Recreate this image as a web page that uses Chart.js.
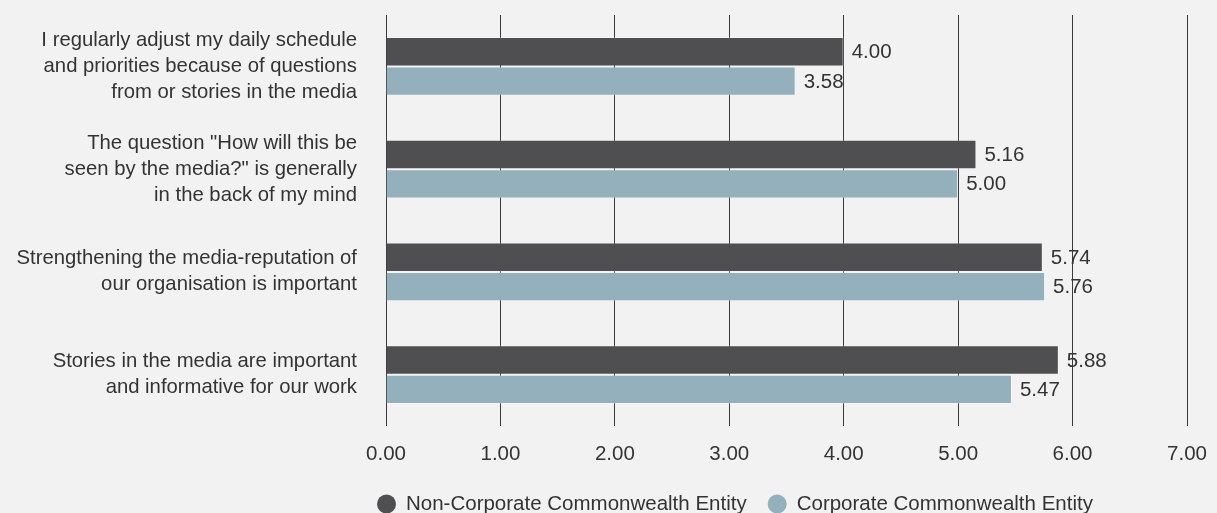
<!DOCTYPE html>
<html>
<head>
<meta charset="utf-8">
<script src="https://cdn.jsdelivr.net/npm/chart.js@4/dist/chart.umd.min.js"></script>
<style>
  html, body { margin: 0; padding: 0; background: #f2f2f2; }
  #wrap { width: 1217px; height: 513px; }
</style>
</head>
<body>
<div id="wrap"><canvas id="c" width="1217" height="513"></canvas></div>
<script>
// Survey statements (multi-line category labels)
const categories = [
  ['I regularly adjust my daily schedule', 'and priorities because of questions', 'from or stories in the media'],
  ['The question "How will this be', 'seen by the media?" is generally', 'in the back of my mind'],
  ['Strengthening the media-reputation of', 'our organisation is important'],
  ['Stories in the media are important', 'and informative for our work']
];
const seriesNames = ['Non-Corporate Commonwealth Entity', 'Corporate Commonwealth Entity'];
const nonCorporate = [4.00, 5.16, 5.74, 5.88];
const corporate = [3.58, 5.00, 5.76, 5.47];
const axisMin = 0;
const axisMax = 7;
const axisStep = 1;

const FONT = '"Liberation Sans", Arial, Helvetica, sans-serif';
const TEXT = '#333333';
const DARK = '#4f4f51';
const LIGHT = '#95b0bd';
const SMALL = 20.5;

// Value labels printed just past the end of each bar
const valueLabels = {
  id: 'valueLabels',
  afterDatasetsDraw(chart) {
    const ctx = chart.ctx;
    ctx.save();
    ctx.font = SMALL + 'px ' + FONT;
    ctx.fillStyle = TEXT;
    ctx.textAlign = 'left';
    ctx.textBaseline = 'middle';
    chart.data.datasets.forEach((ds, i) => {
      const meta = chart.getDatasetMeta(i);
      meta.data.forEach((bar, j) => {
        ctx.fillText(ds.data[j].toFixed(2), bar.x + 8, bar.y + 1);
      });
    });
    ctx.restore();
  }
};

// Legend row with round swatches below the axis
const bottomLegend = {
  id: 'bottomLegend',
  afterDraw(chart) {
    const ctx = chart.ctx;
    ctx.save();
    ctx.font = SMALL + 'px ' + FONT;
    ctx.textBaseline = 'middle';
    ctx.textAlign = 'left';
    const y = 504;
    let x = 377;
    chart.data.datasets.forEach((ds) => {
      ctx.fillStyle = ds.backgroundColor;
      ctx.beginPath();
      ctx.arc(x + 9.5, y, 9.5, 0, Math.PI * 2);
      ctx.fill();
      ctx.fillStyle = TEXT;
      ctx.fillText(ds.label, x + 29, y);
      x += 29 + ctx.measureText(ds.label).width + 21;
    });
    ctx.restore();
  }
};

new Chart(document.getElementById('c'), {
  type: 'bar',
  data: {
    labels: categories,
    datasets: [
      { label: seriesNames[0], data: nonCorporate, backgroundColor: DARK,
        borderColor: 'rgba(255,255,255,0.25)', borderWidth: 1 },
      { label: seriesNames[1], data: corporate, backgroundColor: LIGHT,
        borderColor: 'rgba(255,255,255,0.25)', borderWidth: 1 }
    ]
  },
  options: {
    indexAxis: 'y',
    responsive: false,
    animation: false,
    devicePixelRatio: 1,
    datasets: { bar: { barPercentage: 1.0, categoryPercentage: 0.57 } },
    layout: { padding: { top: 15, right: 30, left: 0, bottom: 0 } },
    plugins: {
      legend: { display: false },
      tooltip: { enabled: false }
    },
    scales: {
      x: {
        min: axisMin,
        max: axisMax,
        ticks: {
          stepSize: axisStep,
          color: TEXT,
          font: { family: FONT, size: SMALL },
          padding: 16,
          maxRotation: 0,
          callback: (v) => Number(v).toFixed(2)
        },
        grid: { color: '#3a3a3a', lineWidth: 1, drawTicks: false },
        border: { display: false },
        afterFit(scale) {
          scale.height = 87;
          scale.paddingLeft = 0;
          scale.paddingRight = 0;
        }
      },
      y: {
        ticks: {
          color: TEXT,
          font: { family: FONT, size: 20.3, lineHeight: 1.28 },
          padding: 29
        },
        grid: { display: false, drawTicks: false },
        border: { display: false },
        afterFit(scale) {
          scale.width = 386;
          scale.paddingTop = 0;
          scale.paddingBottom = 0;
        }
      }
    }
  },
  plugins: [valueLabels, bottomLegend]
});
</script>
</body>
</html>
